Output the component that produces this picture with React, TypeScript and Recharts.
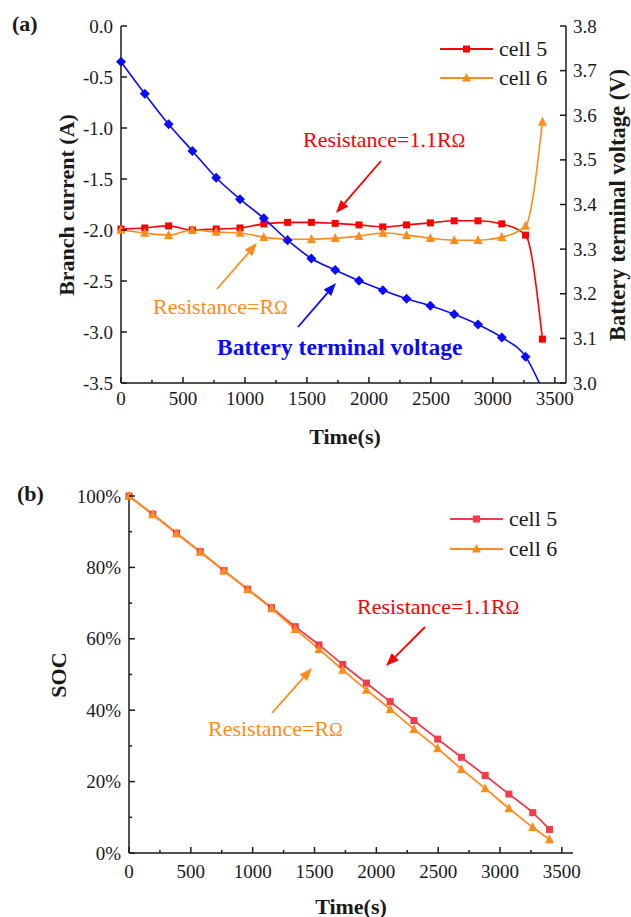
import React from 'react';
import { Line, LineChart, XAxis, YAxis } from 'recharts';

// sample times (s)
const times = [0, 192, 384, 576, 768, 960, 1152, 1344, 1536, 1728, 1920, 2112, 2304, 2496, 2688, 2880, 3072, 3264, 3400];

// (a) branch current (A)
const cell5Current = [-1.99, -1.98, -1.96, -2.0, -1.99, -1.98, -1.94, -1.925, -1.925, -1.935, -1.95, -1.97, -1.95, -1.93, -1.91, -1.91, -1.94, -2.05, -3.07];
const cell6Current = [-2.0, -2.03, -2.05, -2.0, -2.02, -2.03, -2.07, -2.09, -2.09, -2.08, -2.06, -2.03, -2.05, -2.08, -2.1, -2.1, -2.07, -1.96, -0.94];
// (a) battery terminal voltage (V)
const terminalVoltage = [3.72, 3.648, 3.58, 3.52, 3.46, 3.412, 3.369, 3.32, 3.279, 3.253, 3.229, 3.208, 3.189, 3.173, 3.154, 3.131, 3.102, 3.059, 2.985];

// (b) state of charge
const cell5Soc = [1.0, 0.949, 0.896, 0.844, 0.791, 0.739, 0.687, 0.634, 0.583, 0.528, 0.476, 0.424, 0.371, 0.319, 0.268, 0.217, 0.165, 0.113, 0.066];
const cell6Soc = [1.0, 0.948, 0.895, 0.843, 0.79, 0.738, 0.685, 0.627, 0.571, 0.513, 0.457, 0.403, 0.347, 0.293, 0.235, 0.181, 0.125, 0.072, 0.038];

const timeTicks = [0, 250, 500, 750, 1000, 1250, 1500, 1750, 2000, 2250, 2500, 2750, 3000, 3250, 3500];
const currentTicks = [-3.5, -3.0, -2.5, -2.0, -1.5, -1.0, -0.5, 0.0];
const voltageTicks = [3.0, 3.1, 3.2, 3.3, 3.4, 3.5, 3.6, 3.7, 3.8];
const socTicks = [0, 0.1, 0.2, 0.3, 0.4, 0.5, 0.6, 0.7, 0.8, 0.9, 1.0];

const topData = times.map((t, i) => ({
	time: t,
	cell5: cell5Current[i],
	cell6: cell6Current[i],
	voltage: terminalVoltage[i],
}));

const socData = times.map((t, i) => ({
	time: t,
	cell5: cell5Soc[i],
	cell6: cell6Soc[i],
}));

const FONT = "'Liberation Serif', 'Times New Roman', serif";
const RED = '#ff0000';
const RED_B = '#f23b4b';
const ORANGE = '#ff8c1a';
const BLUE = '#0a0aff';
const INK = '#1a1a1a';

const squareDot = (color: string, size: number) => (p: any) => {
	if (p.cx == null || p.cy == null) return <g key={p.index} />;
	return <rect key={p.index} x={p.cx - size / 2} y={p.cy - size / 2} width={size} height={size} fill={color} />;
};

const triangleDot = (color: string, size: number) => (p: any) => {
	if (p.cx == null || p.cy == null) return <g key={p.index} />;
	const { cx, cy } = p;
	const pts = `${cx},${cy - size * 0.58} ${cx - size / 2},${cy + size * 0.42} ${cx + size / 2},${cy + size * 0.42}`;
	return <polygon key={p.index} points={pts} fill={color} />;
};

const diamondDot = (color: string, size: number) => (p: any) => {
	// last sample sits below the axis, no marker there
	if (p.cx == null || p.cy == null || p.index === times.length - 1) return <g key={p.index} />;
	const { cx, cy } = p;
	const h = size / 2;
	return <polygon key={p.index} points={`${cx},${cy - h} ${cx + h},${cy} ${cx},${cy + h} ${cx - h},${cy}`} fill={color} />;
};

const XTick = ({ x, y, payload, gap }: any) => {
	const v = payload.value;
	const major = v % 500 === 0;
	return (
		<g>
			<line x1={x} y1={y} x2={x} y2={y - (major ? 6 : 3)} stroke={INK} strokeWidth={1.5} />
			{major && (
				<text x={x} y={y + gap} textAnchor='middle' fontFamily={FONT} fontSize={19} fill={INK}>
					{v}
				</text>
			)}
		</g>
	);
};

const LeftTick = ({ x, y, payload, fmt, isMajor }: any) => {
	const v = payload.value;
	const major = isMajor(v);
	return (
		<g>
			<line x1={x} y1={y} x2={x + (major ? 6 : 3)} y2={y} stroke={INK} strokeWidth={1.5} />
			{major && (
				<text x={x - 8} y={y + 6.5} textAnchor='end' fontFamily={FONT} fontSize={19} fill={INK}>
					{fmt(v)}
				</text>
			)}
		</g>
	);
};

const RightTick = ({ x, y, payload }: any) => (
	<g>
		<line x1={x} y1={y} x2={x - 6} y2={y} stroke={INK} strokeWidth={1.5} />
		<text x={x + 7} y={y + 6.5} textAnchor='start' fontFamily={FONT} fontSize={19} fill={INK}>
			{payload.value.toFixed(1)}
		</text>
	</g>
);

const Arrow = ({ x1, y1, x2, y2, color }: any) => {
	const a = Math.atan2(y2 - y1, x2 - x1);
	const len = 13;
	const w = 5;
	const bx = x2 - len * Math.cos(a);
	const by = y2 - len * Math.sin(a);
	const px = -Math.sin(a) * w;
	const py = Math.cos(a) * w;
	return (
		<g>
			<line x1={x1} y1={y1} x2={bx} y2={by} stroke={color} strokeWidth={1.8} />
			<polygon points={`${x2},${y2} ${bx + px},${by + py} ${bx - px},${by - py}`} fill={color} />
		</g>
	);
};

const LegendRow = ({ x, y, color, marker, label }: any) => (
	<g>
		<line x1={x} y1={y} x2={x + 53} y2={y} stroke={color} strokeWidth={2} />
		{marker === 'square' ? (
			<rect x={x + 23} y={y - 3.5} width={7} height={7} fill={color} />
		) : (
			<polygon points={`${x + 26.5},${y - 5} ${x + 22},${y + 3.5} ${x + 31},${y + 3.5}`} fill={color} />
		)}
		<text x={x + 59} y={y + 7} fontFamily={FONT} fontSize={22} fill={INK}>
			{label}
		</text>
	</g>
);

const Overlay = () => (
	<svg width={631} height={917} style={{ position: 'absolute', left: 0, top: 0, pointerEvents: 'none' }}>
		{/* panel (a) */}
		<text x={12} y={31} fontFamily={FONT} fontSize={22} fontWeight='bold' fill={INK}>(a)</text>
		<text x={66} y={205} transform='rotate(-90 66 205)' textAnchor='middle' dominantBaseline='central' fontFamily={FONT} fontSize={22} fontWeight='bold' fill={INK}>
			Branch current (A)
		</text>
		<text x={617} y={205} transform='rotate(-90 617 205)' textAnchor='middle' dominantBaseline='central' fontFamily={FONT} fontSize={22.5} fontWeight='bold' fill={INK}>
			Battery terminal voltage (V)
		</text>
		<text x={345} y={436} textAnchor='middle' dominantBaseline='central' fontFamily={FONT} fontSize={22} fontWeight='bold' fill={INK}>
			Time(s)
		</text>
		<LegendRow x={440} y={49} color={RED} marker='square' label='cell 5' />
		<LegendRow x={440} y={78} color={ORANGE} marker='triangle' label='cell 6' />
		<text x={303} y={147} fontFamily={FONT} fontSize={22} fill={RED}>
			Resistance=1.1R<tspan fontSize={18}>Ω</tspan>
		</text>
		<Arrow x1={381} y1={161} x2={336} y2={213} color={RED} />
		<text x={153} y={314} fontFamily={FONT} fontSize={22} fill={ORANGE}>
			Resistance=R<tspan fontSize={18}>Ω</tspan>
		</text>
		<Arrow x1={217} y1={289} x2={257} y2={243} color={ORANGE} />
		<text x={217} y={355} fontFamily={FONT} fontSize={23.5} fontWeight='bold' fill={BLUE}>
			Battery terminal voltage
		</text>
		<Arrow x1={298} y1={327} x2={336} y2={283} color={BLUE} />

		{/* panel (b) */}
		<text x={17} y={501} fontFamily={FONT} fontSize={22} fontWeight='bold' fill={INK}>(b)</text>
		<text x={58} y={675} transform='rotate(-90 58 675)' textAnchor='middle' dominantBaseline='central' fontFamily={FONT} fontSize={22} fontWeight='bold' fill={INK}>
			SOC
		</text>
		<text x={351} y={906} textAnchor='middle' dominantBaseline='central' fontFamily={FONT} fontSize={22} fontWeight='bold' fill={INK}>
			Time(s)
		</text>
		<LegendRow x={450} y={519} color={RED_B} marker='square' label='cell 5' />
		<LegendRow x={450} y={549} color={ORANGE} marker='triangle' label='cell 6' />
		<text x={357} y={614} fontFamily={FONT} fontSize={22} fill={RED}>
			Resistance=1.1R<tspan fontSize={18}>Ω</tspan>
		</text>
		<Arrow x1={425} y1={627} x2={386} y2={666} color={RED} />
		<text x={208} y={736} fontFamily={FONT} fontSize={22} fill={ORANGE}>
			Resistance=R<tspan fontSize={18}>Ω</tspan>
		</text>
		<Arrow x1={272} y1={713} x2={312} y2={668} color={ORANGE} />
	</svg>
);

export default function App() {
	return (
		<div style={{ position: 'absolute', left: 0, top: 0, width: 631, height: 917, background: '#fff' }}>
			<div style={{ position: 'absolute', left: 0, top: 0 }}>
				<LineChart width={631} height={460} data={topData} margin={{ top: 26, right: 5, left: 61, bottom: 37 }}>
					<XAxis
						dataKey='time'
						type='number'
						domain={[0, 3590]}
						ticks={timeTicks}
						interval={0}
						tickSize={0}
						tickMargin={0}
						tickLine={false}
						height={40}
						axisLine={{ stroke: INK, strokeWidth: 1.5 }}
						tick={(p: any) => <XTick {...p} gap={22} />}
					/>
					<XAxis xAxisId='top' orientation='top' type='number' domain={[0, 3590]} tick={false} tickLine={false} height={0} axisLine={{ stroke: '#333', strokeWidth: 1.2 }} />
					<YAxis
						yAxisId='left'
						type='number'
						domain={[-3.5, 0]}
						ticks={currentTicks}
						interval={0}
						tickSize={0}
						tickMargin={0}
						tickLine={false}
						width={60}
						axisLine={{ stroke: INK, strokeWidth: 1.5 }}
						tick={(p: any) => <LeftTick {...p} fmt={(v: number) => v.toFixed(1)} isMajor={() => true} />}
					/>
					<YAxis
						yAxisId='right'
						orientation='right'
						type='number'
						domain={[3.0, 3.8]}
						allowDataOverflow
						ticks={voltageTicks}
						interval={0}
						tickSize={0}
						tickMargin={0}
						tickLine={false}
						width={60}
						axisLine={{ stroke: INK, strokeWidth: 1.5 }}
						tick={(p: any) => <RightTick {...p} />}
					/>
					<Line yAxisId='left' type='monotone' dataKey='cell5' stroke={RED} strokeWidth={1.6} dot={squareDot(RED, 7)} isAnimationActive={false} />
					<Line yAxisId='left' type='monotone' dataKey='cell6' stroke={ORANGE} strokeWidth={1.6} dot={triangleDot(ORANGE, 9)} isAnimationActive={false} />
					<Line yAxisId='right' type='monotone' dataKey='voltage' stroke={BLUE} strokeWidth={1.6} dot={diamondDot(BLUE, 10)} isAnimationActive={false} />
				</LineChart>
			</div>
			<div style={{ position: 'absolute', left: 0, top: 460 }}>
				<LineChart width={631} height={457} data={socData} margin={{ top: 36, right: 58, left: 69, bottom: 24 }}>
					<XAxis
						dataKey='time'
						type='number'
						domain={[0, 3590]}
						ticks={timeTicks}
						interval={0}
						tickSize={0}
						tickMargin={0}
						tickLine={false}
						height={40}
						axisLine={{ stroke: INK, strokeWidth: 1.5 }}
						tick={(p: any) => <XTick {...p} gap={25} />}
					/>
					<XAxis xAxisId='top' orientation='top' type='number' domain={[0, 3590]} tick={false} tickLine={false} height={0} axisLine={{ stroke: '#8c8c8c', strokeWidth: 1.5 }} />
					<YAxis
						type='number'
						domain={[0, 1]}
						ticks={socTicks}
						interval={0}
						tickSize={0}
						tickMargin={0}
						tickLine={false}
						width={60}
						axisLine={{ stroke: INK, strokeWidth: 1.5 }}
						tick={(p: any) => (
							<LeftTick
								{...p}
								fmt={(v: number) => `${Math.round(v * 100)}%`}
								isMajor={(v: number) => Math.round(v * 100) % 20 === 0}
							/>
						)}
					/>
					<YAxis yAxisId='frame' orientation='right' type='number' domain={[0, 1]} tick={false} tickLine={false} width={0} axisLine={{ stroke: '#8c8c8c', strokeWidth: 1.5 }} />
					<Line type='monotone' dataKey='cell5' stroke={RED_B} strokeWidth={1.8} dot={squareDot(RED_B, 7)} isAnimationActive={false} />
					<Line type='monotone' dataKey='cell6' stroke={ORANGE} strokeWidth={1.8} dot={triangleDot(ORANGE, 9)} isAnimationActive={false} />
				</LineChart>
			</div>
			<Overlay />
		</div>
	);
}
